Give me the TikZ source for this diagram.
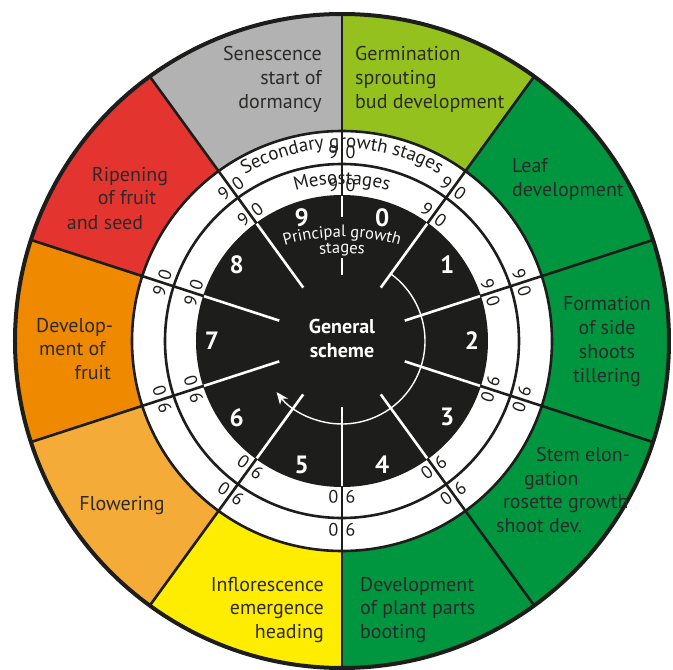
\documentclass[tikz,border=0pt]{standalone}
\usepackage{fontspec}
\setmainfont{PT Sans}
\usetikzlibrary{decorations.text,arrows.meta}
\definecolor{cgray}{HTML}{B2B2B2}
\definecolor{clgreen}{HTML}{95C11F}
\definecolor{cgreen}{HTML}{009640}
\definecolor{cyellow}{HTML}{FFED00}
\definecolor{clorange}{HTML}{F5AB38}
\definecolor{corange}{HTML}{EF8A00}
\definecolor{cred}{HTML}{E3342F}
\definecolor{cdark}{HTML}{1D1D1B}
\definecolor{ctext}{HTML}{2B2A29}
\begin{document}
\begin{tikzpicture}[x=1pt,y=1pt,
  sectortext/.style={text=ctext, font=\fontsize{20}{24}\selectfont, inner sep=0pt, text height=0.7em, text depth=0.2em},
  ringdigit/.style={text=cdark, font=\fontsize{18}{20}\selectfont, inner sep=0pt},
  stagenum/.style={text=white, font=\bfseries\fontsize{25}{28}\selectfont, inner sep=0pt},
  blackline/.style={draw=cdark, line width=2.6},
  whiteline/.style={draw=white, line width=2.6}]
\useasboundingbox (-342,-329) rectangle (331,341);
\fill[white] (-342,-329) rectangle (331,341);
% coloured sectors
\foreach \a/\c in {90/cgray, 54/clgreen, 18/cgreen, -18/cgreen, -54/cgreen, -90/cgreen, -126/cyellow, -162/clorange, 162/corange, 126/cred} {
  \fill[\c] (\a:210) arc[start angle=\a, end angle=\a+36, radius=210] -- (\a+36:328) arc[start angle=\a+36, end angle=\a, radius=328] -- cycle;
}
% rings
\fill[white] (0,0) circle (210);
\draw[blackline] (0,0) circle (210);
\draw[blackline] (0,0) circle (177);
\fill[cdark] (0,0) circle (146);
\draw[cdark, line width=4] (0,0) circle (327);
\foreach \a in {90,54,...,-234} {
  \draw[blackline] (\a:145) -- (\a:328);
}
% white lines in the disk
\foreach \a in {54,18,...,-234} {
  \draw[whiteline] (\a:66) -- (\a:145);
}
\draw[whiteline] (90:66) -- (90:83);
\draw[whiteline] (90:124) -- (90:145);
% ring digits
\foreach \a [count=\i] in {90,54,...,-234} {
  \node[ringdigit, rotate=\a-90] (sd\i) at (\a:189) {\makebox[27pt]{9\hfill0}};
  \node[ringdigit, rotate=\a-90] (md\i) at (\a:156) {\makebox[27pt]{9\hfill0}};
}
% curved ring titles
\path[decorate, decoration={text along path, text align=center, text color=cdark,
  text={|\fontsize{19}{22}\selectfont|Secondary growth stages}}]
  (135:193) arc[start angle=135, end angle=45, radius=193];
\path[decorate, decoration={text along path, text align=center, text color=cdark,
  text={|\fontsize{19}{22}\selectfont|Mesostages}}]
  (135:157) arc[start angle=135, end angle=45, radius=157];
\path[shift={(0,-96)}, decorate, decoration={text along path, text align=center, text color=white,
  text={|\fontsize{16.5}{19}\selectfont|Principal growth}}]
  (115:200) arc[start angle=115, end angle=65, radius=200];
\path[shift={(0,-112)}, decorate, decoration={text along path, text align=center, text color=white,
  text={|\fontsize{16.5}{19}\selectfont|stages}}]
  (105:200) arc[start angle=105, end angle=75, radius=200];
% stage numbers
\foreach \n in {0,...,9} {
  \node[stagenum] (n\n) at ({72-36*\n}:130) {\n};
}
\node[text=white, font=\bfseries\fontsize{20}{24}\selectfont, align=center, inner sep=0pt] (gs) at (0,3) {General\\scheme};
% circular arrow
\draw[white, line width=1.4, -{Stealth[length=12pt, width=10pt, inset=3.5pt]}] (54:83) arc[start angle=54, end angle=-142, radius=83];
% sector texts
\node[sectortext, anchor=east] (sen1) at (-20,283) {Senescence};
\node[sectortext, anchor=east] (sen2) at (-20,259) {start of};
\node[sectortext, anchor=east] (sen3) at (-20,235) {dormancy};
\node[sectortext, anchor=west] (ger1) at (13,283) {Germination};
\node[sectortext, anchor=west] (ger2) at (13,259) {sprouting};
\node[sectortext, anchor=west] (ger3) at (13,235) {bud development};
\node[sectortext, anchor=west] (leaf1) at (170,171) {Leaf};
\node[sectortext, anchor=west] (leaf2) at (170,147) {development};
\node[sectortext] (for1) at (265,33) {Formation};
\node[sectortext] (for2) at (265,9) {of side};
\node[sectortext] (for3) at (265,-15) {shoots};
\node[sectortext] (for4) at (265,-39) {tillering};
\node[sectortext, anchor=west] (ste1) at (194,-118) {Stem elon-};
\node[sectortext, anchor=west] (ste2) at (182,-142) {gation};
\node[sectortext, anchor=west] (ste3) at (161,-165) {rosette growth};
\node[sectortext, anchor=west] (ste4) at (154,-189) {shoot dev.};
\node[sectortext, anchor=west] (dev1) at (18,-248) {Development};
\node[sectortext, anchor=west] (dev2) at (18,-271) {of plant parts};
\node[sectortext, anchor=west] (dev3) at (18,-295) {booting};
\node[sectortext, anchor=east] (inf1) at (-18,-248) {Inflorescence};
\node[sectortext, anchor=east] (inf2) at (-18,-271) {emergence};
\node[sectortext, anchor=east] (inf3) at (-18,-295) {heading};
\node[sectortext] (flo) at (-220,-167) {Flowering};
\node[sectortext, anchor=west] (fru1) at (-306,11) {Develop-};
\node[sectortext, anchor=west] (fru2) at (-303,-12) {ment of};
\node[sectortext, anchor=east] (fru3) at (-231,-36) {fruit};
\node[sectortext] (rip1) at (-212,162) {Ripening};
\node[sectortext] (rip2) at (-215,139) {of fruit};
\node[sectortext] (rip3) at (-237,114) {and seed};
\end{tikzpicture}
\end{document}
